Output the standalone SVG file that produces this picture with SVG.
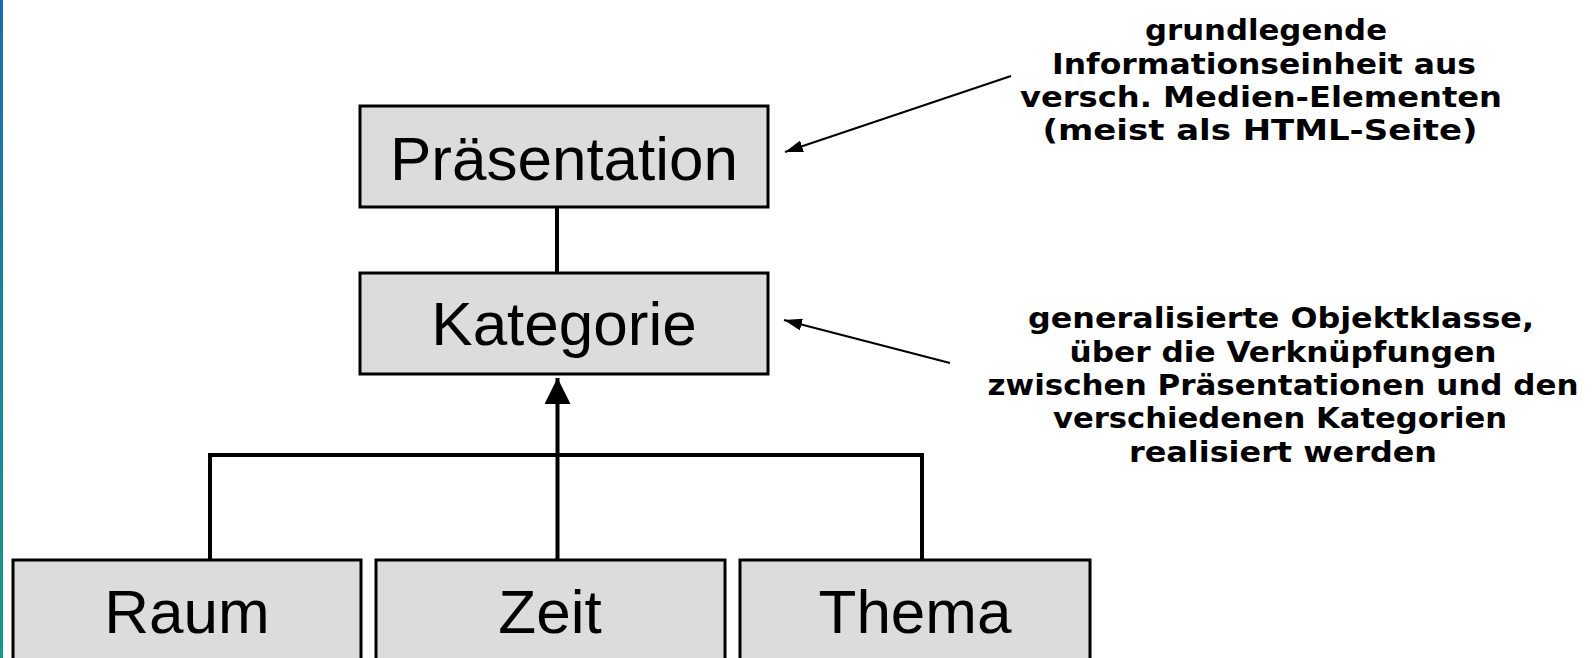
<svg xmlns="http://www.w3.org/2000/svg" width="1593" height="658" viewBox="0 0 1593 658">
  <defs>
    <linearGradient id="edge" x1="0" y1="0" x2="0" y2="1">
      <stop offset="0" stop-color="#1a6cae"/>
      <stop offset="1" stop-color="#17998a"/>
    </linearGradient>
    <marker id="bigArrow" viewBox="0 0 26 26" refX="26" refY="13" markerWidth="26" markerHeight="26" markerUnits="userSpaceOnUse" orient="auto">
      <path d="M0,0 L26,13 L0,26 Z" fill="#000"/>
    </marker>
    <marker id="smallArrow" viewBox="0 0 18 12" refX="18" refY="6" markerWidth="18" markerHeight="12" markerUnits="userSpaceOnUse" orient="auto">
      <path d="M0,0 L18,6 L0,12 Z" fill="#000"/>
    </marker>
  </defs>
  <style>
    .box { fill: #dcdcdc; stroke: #000; stroke-width: 3; }
    .lbl { font-family: "Liberation Sans", Arial, sans-serif; font-size: 62px; fill: #000; text-anchor: middle; }
    .note { font-family: "DejaVu Sans", "Liberation Sans", sans-serif; font-weight: bold; font-size: 28px; fill: #000; text-anchor: middle; }
    .conn { stroke: #000; stroke-width: 4; fill: none; }
    .ptr { stroke: #000; stroke-width: 2; fill: none; }
  </style>
  <rect x="0" y="0" width="1593" height="658" fill="#fff"/>
  <rect x="0" y="0" width="3" height="658" fill="url(#edge)"/>

  <g id="connectors">
    <line class="conn" x1="557" y1="207" x2="557" y2="273"/>
    <polyline class="conn" points="210,560 210,455 922,455 922,560"/>
    <line class="conn" x1="557.5" y1="560" x2="557.5" y2="378" marker-end="url(#bigArrow)"/>
    <line class="ptr" x1="1011" y1="76" x2="785" y2="152" marker-end="url(#smallArrow)"/>
    <line class="ptr" x1="950" y1="363" x2="784" y2="320" marker-end="url(#smallArrow)"/>
  </g>

  <g id="praesentation">
    <rect class="box" x="360" y="106" width="408" height="101"/>
    <text class="lbl" x="564" y="180">Präsentation</text>
  </g>
  <g id="kategorie">
    <rect class="box" x="360" y="273" width="408" height="101"/>
    <text class="lbl" x="564" y="345">Kategorie</text>
  </g>
  <g id="raum">
    <rect class="box" x="13" y="560" width="348" height="120"/>
    <text class="lbl" x="187" y="633">Raum</text>
  </g>
  <g id="zeit">
    <rect class="box" x="376" y="560" width="349" height="120"/>
    <text class="lbl" x="550" y="633">Zeit</text>
  </g>
  <g id="thema">
    <rect class="box" x="740" y="560" width="350" height="120"/>
    <text class="lbl" x="915" y="633">Thema</text>
  </g>

  <g id="note-praesentation">
    <text class="note" x="1266" y="40" textLength="242" lengthAdjust="spacingAndGlyphs">grundlegende</text>
    <text class="note" x="1264" y="74" textLength="424" lengthAdjust="spacingAndGlyphs">Informationseinheit aus</text>
    <text class="note" x="1261" y="107" textLength="482" lengthAdjust="spacingAndGlyphs">versch. Medien-Elementen</text>
    <text class="note" x="1260" y="140" textLength="435" lengthAdjust="spacingAndGlyphs">(meist als HTML-Seite)</text>
  </g>
  <g id="note-kategorie">
    <text class="note" x="1281" y="328" textLength="506" lengthAdjust="spacingAndGlyphs">generalisierte Objektklasse,</text>
    <text class="note" x="1283" y="362" textLength="427" lengthAdjust="spacingAndGlyphs">über die Verknüpfungen</text>
    <text class="note" x="1283" y="395" textLength="591" lengthAdjust="spacingAndGlyphs">zwischen Präsentationen und den</text>
    <text class="note" x="1280" y="428" textLength="454" lengthAdjust="spacingAndGlyphs">verschiedenen Kategorien</text>
    <text class="note" x="1283" y="462" textLength="308" lengthAdjust="spacingAndGlyphs">realisiert werden</text>
  </g>
</svg>
